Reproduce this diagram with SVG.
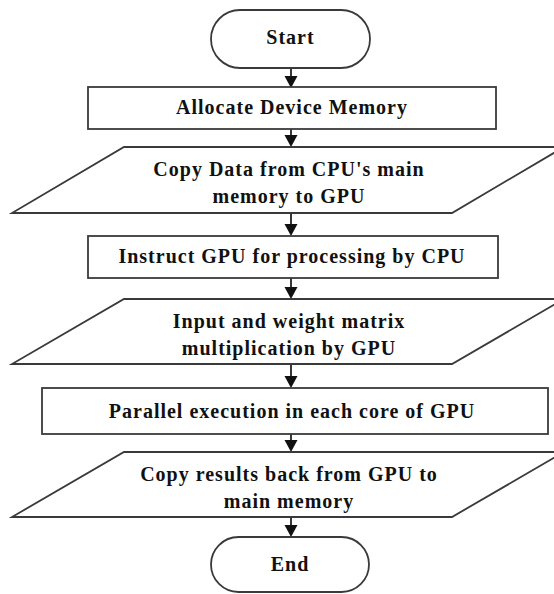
<svg xmlns="http://www.w3.org/2000/svg" width="554" height="594" viewBox="0 0 554 594">
<style>
.shape{fill:#fff;stroke:#3a3a3a;stroke-width:1.8}
.lbl{font-family:"Liberation Serif","Times New Roman",serif;font-weight:bold;font-size:20px;fill:#111;text-anchor:middle;letter-spacing:1px}
.conn{stroke:#222;stroke-width:1.8;fill:none}
.head{fill:#111}
</style>
<rect width="554" height="594" fill="#fff"/>
<g id="connectors">
<line class="conn" x1="291" y1="68" x2="291" y2="78"/><polygon class="head" points="284.5,76 297.5,76 291,88"/>
<line class="conn" x1="291" y1="129" x2="291" y2="137"/><polygon class="head" points="284.5,135 297.5,135 291,147"/>
<line class="conn" x1="291" y1="213" x2="291" y2="226"/><polygon class="head" points="284.5,224 297.5,224 291,236"/>
<line class="conn" x1="291" y1="278" x2="291" y2="289"/><polygon class="head" points="284.5,287 297.5,287 291,299"/>
<line class="conn" x1="291" y1="364" x2="291" y2="378"/><polygon class="head" points="284.5,376 297.5,376 291,388"/>
<line class="conn" x1="291" y1="434" x2="291" y2="442"/><polygon class="head" points="284.5,440 297.5,440 291,452"/>
<line class="conn" x1="291" y1="517" x2="291" y2="527"/><polygon class="head" points="284.5,525 297.5,525 291,537"/>
</g>
<g id="start">
<rect class="shape" x="211" y="10" width="159" height="58" rx="29" ry="29"/>
<text class="lbl" x="290.5" y="44">Start</text>
</g>
<g id="allocate">
<rect class="shape" x="88" y="87" width="408" height="42"/>
<text class="lbl" x="292" y="114">Allocate Device Memory</text>
</g>
<g id="copy-data">
<polygon class="shape" points="124,147 564,147 452,213 12,213"/>
<text class="lbl" x="289" y="176">Copy Data from CPU's main</text>
<text class="lbl" x="289" y="203">memory to GPU</text>
</g>
<g id="instruct">
<rect class="shape" x="88" y="236" width="410" height="42"/>
<text class="lbl" x="292" y="263">Instruct GPU for processing by CPU</text>
</g>
<g id="multiply">
<polygon class="shape" points="124,299 564,299 452,364 12,364"/>
<text class="lbl" x="289" y="328">Input and weight matrix</text>
<text class="lbl" x="289" y="355">multiplication by GPU</text>
</g>
<g id="parallel">
<rect class="shape" x="42" y="388" width="506" height="46"/>
<text class="lbl" x="292" y="418">Parallel execution in each core of GPU</text>
</g>
<g id="copy-back">
<polygon class="shape" points="124,452 564,452 452,517 12,517"/>
<text class="lbl" x="289" y="481">Copy results back from GPU to</text>
<text class="lbl" x="289" y="508">main memory</text>
</g>
<g id="end">
<rect class="shape" x="211" y="537" width="158" height="55" rx="27.5" ry="27.5"/>
<text class="lbl" x="290" y="571">End</text>
</g>
</svg>
